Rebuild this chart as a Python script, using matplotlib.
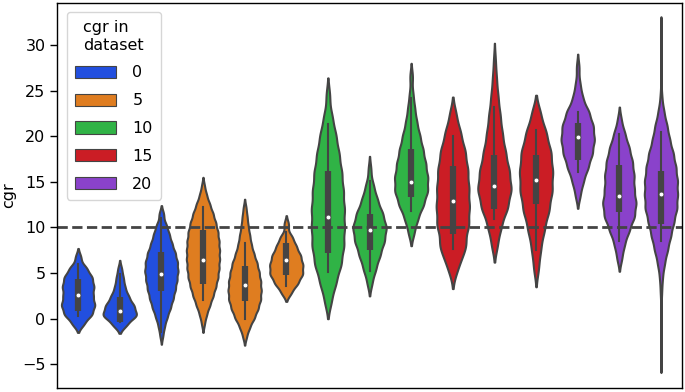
import numpy as np
import matplotlib
matplotlib.use('Agg')
import matplotlib.pyplot as plt
from matplotlib.patches import Patch
import seaborn as sns

#--------------------------   Data   -----------------------

#cgr in dataset (hue) for each of the 15 violins
group = [0, 0, 0, 5, 5, 5, 10, 10, 10, 15, 15, 15, 20, 20, 20]
hue_levels = [0, 5, 10, 15, 20]

#Binned cgr values and their weights (relative density) per violin
cgr_levels = [
    [-0.5, 0.5, 1.5, 2.5, 3.5, 4.5, 5.5, 6.7],
    [-0.6, 0.4, 1.4, 2.4, 3.4, 4.4, 5.4],
    [-1.8, -0.8, 0.2, 1.2, 2.2, 3.2, 4.2, 5.2, 6.2, 7.2, 8.2, 9.2, 10.2, 11.4],
    [-0.5, 0.5, 1.5, 2.5, 3.5, 4.5, 5.5, 6.5, 7.5, 8.5, 9.5, 10.5, 11.5, 12.5,
     13.5, 14.5],
    [-1.9, -0.9, 0.1, 1.1, 2.1, 3.1, 4.1, 5.1, 6.1, 7.1, 8.1, 9.1, 10.1, 11.1,
     12.1],
    [2.9, 3.9, 4.9, 5.9, 6.9, 7.9, 8.9, 10.3],
    [2, 4, 6, 8, 10, 12, 14, 16, 18, 20, 22, 24.4],
    [4.0, 5.5, 7.0, 8.5, 10.0, 11.5, 13.0, 14.5, 16.3],
    [9.5, 11, 12.5, 14, 15.5, 17, 18.5, 20, 21.5, 23, 24.5, 26.5],
    [5.3, 6.8, 8.3, 10.3, 12.3, 14.3, 16.3, 18.3, 20.3, 22.3],
    [8.2, 10.2, 12.2, 14.2, 16.2, 18.2, 20.2, 22.2, 24.2, 26.2, 28.2],
    [5.6, 7.7, 9.8, 11.9, 14.0, 16.1, 18.2, 20.3, 22.4],
    [13.6, 15.1, 16.6, 18.1, 19.6, 21.1, 22.6, 24.1, 25.6, 27.5],
    [6.7, 8.2, 9.7, 11.2, 12.7, 14.2, 15.7, 17.2, 18.7, 20.2, 21.7],
    [-4.4, -2.9, -1.4, 0.1, 1.6, 3.1, 4.6, 6.1, 7.6, 9.1, 10.6, 12.1, 13.6,
     15.1, 16.6, 18.1, 19.6, 21.1, 22.6, 24.1, 25.6, 27.1, 28.6, 30.1, 31.6],
]
cgr_weights = [
    [12, 27, 32, 28, 30, 27, 17, 6],
    [14, 33, 27, 17, 10, 7, 4],
    [3, 6, 11, 17, 22, 26, 29, 31, 30, 26, 20, 15, 10, 5],
    [3, 7, 13, 19, 24, 28, 30, 31, 31, 30, 28, 24, 19, 13, 7, 3],
    [4, 10, 19, 26, 31, 32, 31, 28, 24, 18, 13, 10, 7, 5, 3],
    [10, 22, 31, 31, 27, 19, 12, 5],
    [7, 16, 26, 31, 32, 32, 30, 27, 22, 16, 9, 4],
    [5, 12, 20, 28, 32, 25, 15, 8, 3],
    [6, 13, 24, 32, 32, 28, 23, 17, 11, 7, 4, 3],
    [7, 14, 24, 32, 33, 32, 30, 25, 16, 7],
    [6, 13, 25, 32, 28, 21, 15, 11, 7, 4, 2],
    [5, 9, 16, 25, 31, 32, 29, 20, 9],
    [5, 11, 20, 28, 32, 30, 22, 10, 5, 3],
    [5, 10, 19, 29, 32, 28, 28, 25, 19, 11, 4],
    [0.5, 0.5, 0.5, 0.5, 0.5, 1.5, 3, 7, 13, 19, 25, 31, 32, 32, 29, 24, 17,
     12, 6, 2, 0.5, 0.5, 0.5, 0.5, 0.5],
]
#Kernel bandwidth used for each violin
bandwidth = [0.5, 0.5, 0.5, 0.5, 0.5, 0.5, 1.0, 0.75, 0.75, 1.0, 1.0, 1.05,
             0.75, 0.75, 0.75]

#Inner box: whisker ends, quartiles and median
whisker_lo = [0.33, -0.4, -1.5, 2.1, 0.0, 3.6, 5.1, 5.2, 11.8, 7.6, 10.9, 7.5,
              16.1, 8.5, 8.5]
q1 = [0.8, -0.33, 3.0, 3.8, 1.9, 4.8, 7.2, 7.5, 13.3, 9.3, 12.0, 12.6, 17.4,
      11.7, 10.4]
median = [2.64, 0.8, 4.9, 6.4, 3.7, 6.4, 11.1, 9.7, 15.0, 12.9, 14.5, 15.2,
          19.9, 13.4, 13.7]
q3 = [4.36, 2.4, 7.3, 9.7, 5.8, 8.3, 16.2, 11.5, 18.6, 16.7, 17.9, 17.9, 21.4,
      16.8, 16.2]
whisker_hi = [6.0, 4.9, 11.0, 12.2, 8.3, 9.5, 21.3, 15.1, 24.2, 20.0, 23.2,
              20.7, 22.7, 20.2, 20.5]

threshold = 10

#------------------------------   Plot   --------------------------------------

plt.rcParams['font.size'] = 11.5

pal = sns.color_palette('bright', 5, desat=0.75)
colmap = dict(zip(hue_levels, pal))
gray = '#444444'
lwidth = 1.5

fig, ax1 = plt.subplots(1, 1, figsize=(6.85, 3.92), dpi=100)
fig.subplots_adjust(left=0.0836, right=0.9953, top=0.9931, bottom=0.0094)

#Violin bodies from kernel density of the binned values
vpstats = []
for lv, wt, b in zip(cgr_levels, cgr_weights, bandwidth):
    lv = np.asarray(lv, float)
    wt = np.asarray(wt, float)
    grid = np.linspace(lv.min() - 2*b, lv.max() + 2*b, 300)
    dens = (wt[None, :] *
            np.exp(-0.5*((grid[:, None] - lv[None, :])/b)**2)).sum(axis=1)
    vpstats.append(dict(coords=grid, vals=dens, mean=np.average(lv, weights=wt),
                        median=np.average(lv, weights=wt),
                        min=lv.min(), max=lv.max()))

pos = list(range(len(group)))
parts = ax1.violin(vpstats, positions=pos, widths=0.8, showmeans=False,
                   showextrema=False, showmedians=False)
for body, g in zip(parts['bodies'], group):
    body.set_facecolor(colmap[g])
    body.set_edgecolor(gray)
    body.set_linewidth(lwidth)
    body.set_alpha(1)
    body.set_zorder(1)

#Threshold line
ax1.axhline(threshold, color=gray, linestyle='--', linewidth=2, zorder=2)

#Inner boxes
for i in pos:
    ax1.plot([i, i], [whisker_lo[i], whisker_hi[i]], color=gray,
             linewidth=lwidth, zorder=3)
    ax1.plot([i, i], [q1[i], q3[i]], color=gray, linewidth=lwidth*3,
             solid_capstyle='butt', zorder=3)
ax1.scatter(pos, median, s=12, color='white', edgecolor=gray, linewidth=0.5,
            zorder=4)

#Axes
ax1.set_xlim(-0.5, len(group) - 0.5)
ax1.set_ylim(-7.63, 34.64)
ax1.set_xticks([])
ax1.set_yticks([-5, 0, 5, 10, 15, 20, 25, 30])
ax1.tick_params(axis='y', length=5, width=1)
ax1.set_ylabel('cgr')
ax1.yaxis.set_label_coords(-0.066, 0.5)
for sp in ax1.spines.values():
    sp.set_linewidth(1)

#Legend
handles = [Patch(facecolor=colmap[h], edgecolor=gray, linewidth=0.8,
                 label=str(h)) for h in hue_levels]
ax1.legend(handles=handles, title='cgr in\ndataset', loc='upper left',
           handlelength=2.55, handleheight=0.8, labelspacing=0.8,
           handletextpad=1.05, borderaxespad=0.6, borderpad=0.5)

plt.savefig('out.png', dpi=100)
